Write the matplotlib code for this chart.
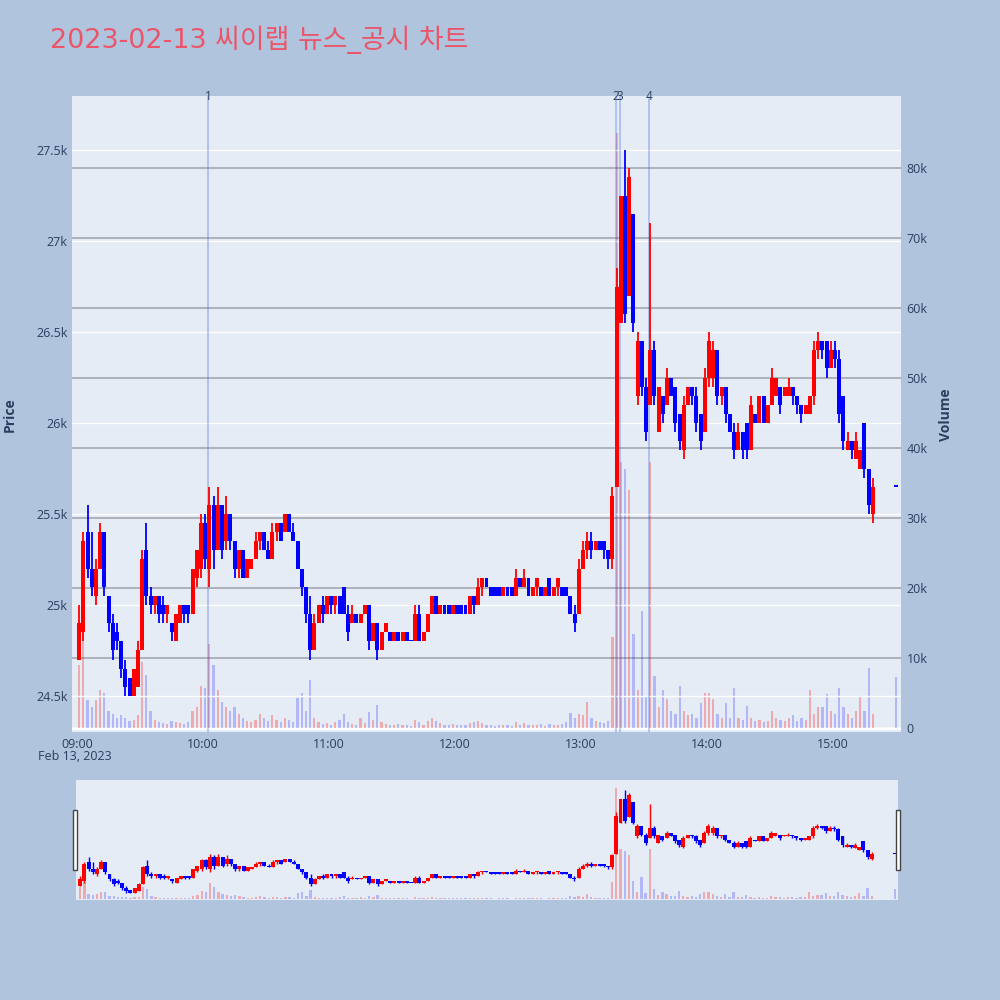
import numpy as np
import pandas as pd
import matplotlib
matplotlib.use('Agg')
import matplotlib.pyplot as plt
from matplotlib.patches import Rectangle
import matplotlib.transforms as mtransforms

plt.rcParams['font.family'] = ['Open Sans', 'Noto Sans CJK KR', 'DejaVu Sans']

title = '2023-02-13 씨이랩 뉴스_공시 차트'
session_start = '2023-02-13 09:00'

# 2-minute candles, 09:00 .. 15:20 (one row = 20 minutes)
opens = [
    24700, 24850, 25400, 25200, 25050, 25200, 25400, 25050, 24900, 24850,
    24800, 24650, 24600, 24500, 24550, 24750, 25300, 25050, 25000, 25050,
    25000, 24950, 24900, 24800, 24900, 25000, 25000, 24950, 25150, 25200,
    25450, 25200, 25550, 25300, 25550, 25350, 25500, 25350, 25200, 25300,
    25150, 25200, 25250, 25350, 25400, 25300, 25250, 25400, 25450, 25400,
    25500, 25400, 25350, 25200, 25100, 24950, 24750, 24900, 25000, 24950,
    25050, 25000, 25050, 25100, 24950, 24900, 24950, 24900, 24950, 25000,
    24800, 24900, 24750, 24850, 24850, 24800, 24850, 24800, 24850, 24800,
    24800, 24950, 24800, 24850, 24950, 25050, 24950, 25000, 25000, 24950,
    25000, 25000, 25000, 24950, 25050, 25000, 25100, 25150, 25100, 25100,
    25100, 25050, 25100, 25100, 25050, 25150, 25100, 25150, 25050, 25100,
    25100, 25050, 25150, 25050, 25100, 25100, 25100, 25050, 24950, 24950,
    25200, 25300, 25350, 25300, 25350, 25350, 25300, 25250, 25650, 26550,
    27250, 26700, 27150, 26150, 26450, 26200, 26100, 26400, 25950, 26150,
    26100, 26250, 26200, 26050, 25850, 26100, 26200, 26150, 26050, 25950,
    26250, 26250, 26400, 26150, 26200, 26050, 25950, 25850, 25950, 26000,
    25850, 26050, 26000, 26150, 26000, 26100, 26150, 26200, 26150, 26150,
    26200, 26150, 26100, 26050, 26050, 26150, 26400, 26450, 26450, 26300,
    26400, 26350, 26150, 25850, 25900, 25800, 25750, 26000, 25750, 25500,
]
highs = [
    25000, 25400, 25550, 25400, 25250, 25450, 25400, 25050, 24950, 24900,
    24800, 24700, 24600, 24650, 24800, 25300, 25450, 25100, 25050, 25050,
    25050, 25000, 24900, 24950, 25000, 25000, 25000, 25200, 25300, 25500,
    25500, 25650, 25600, 25650, 25550, 25600, 25500, 25350, 25300, 25300,
    25250, 25250, 25400, 25400, 25400, 25350, 25450, 25450, 25450, 25500,
    25500, 25450, 25350, 25200, 25100, 25050, 24950, 25000, 25050, 25050,
    25050, 25050, 25050, 25100, 25000, 25000, 24950, 24950, 25000, 25000,
    24900, 24900, 24850, 24900, 24850, 24850, 24850, 24850, 24850, 24800,
    25000, 25000, 24850, 24950, 25050, 25050, 25000, 25000, 25000, 25000,
    25000, 25000, 25000, 25050, 25050, 25150, 25150, 25150, 25100, 25100,
    25100, 25100, 25100, 25100, 25200, 25150, 25200, 25150, 25100, 25150,
    25100, 25100, 25150, 25100, 25150, 25100, 25100, 25050, 25000, 25250,
    25350, 25400, 25400, 25350, 25350, 25350, 25300, 25650, 26850, 27250,
    27500, 27400, 27150, 26500, 26450, 26250, 27100, 26450, 26200, 26150,
    26300, 26250, 26200, 26050, 26150, 26200, 26200, 26200, 26050, 26300,
    26500, 26450, 26400, 26200, 26200, 26050, 26000, 26000, 25950, 26000,
    26150, 26050, 26150, 26150, 26100, 26300, 26250, 26200, 26200, 26250,
    26200, 26150, 26100, 26100, 26150, 26450, 26500, 26450, 26450, 26450,
    26450, 26400, 26150, 25950, 25900, 25950, 25850, 26000, 25750, 25700,
]
lows = [
    24700, 24800, 25150, 25050, 25000, 25200, 25050, 24850, 24700, 24750,
    24600, 24500, 24500, 24500, 24550, 24750, 25000, 24950, 24950, 24900,
    24900, 24900, 24800, 24800, 24900, 24900, 24900, 24950, 25100, 25150,
    25200, 25100, 25200, 25300, 25250, 25300, 25300, 25150, 25150, 25150,
    25150, 25200, 25250, 25300, 25300, 25250, 25250, 25350, 25350, 25400,
    25400, 25350, 25200, 25050, 24900, 24700, 24750, 24900, 24900, 24950,
    24950, 24950, 24950, 24950, 24800, 24900, 24900, 24900, 24950, 24750,
    24800, 24700, 24750, 24850, 24800, 24800, 24800, 24800, 24800, 24800,
    24800, 24800, 24800, 24850, 24950, 24950, 24950, 24950, 24950, 24950,
    24950, 24950, 24950, 24950, 24950, 25000, 25050, 25100, 25050, 25050,
    25050, 25050, 25050, 25050, 25050, 25100, 25100, 25050, 25050, 25050,
    25050, 25050, 25050, 25050, 25050, 25050, 25050, 24950, 24850, 24950,
    25200, 25250, 25250, 25300, 25300, 25250, 25200, 25200, 25650, 26550,
    26550, 26700, 26500, 26100, 26150, 25900, 26100, 26100, 25950, 26000,
    26100, 26150, 25950, 25850, 25800, 26100, 26100, 25950, 25850, 25950,
    26200, 26200, 26100, 26100, 26000, 25950, 25800, 25850, 25800, 25800,
    25850, 26000, 26000, 26000, 26000, 26100, 26150, 26050, 26150, 26150,
    26100, 26050, 26000, 26050, 26050, 26100, 26350, 26350, 26250, 26300,
    26300, 26000, 25850, 25850, 25800, 25800, 25750, 25700, 25500, 25450,
]
closes = [
    24900, 25350, 25200, 25100, 25200, 25400, 25100, 24900, 24750, 24800,
    24650, 24550, 24500, 24650, 24750, 25250, 25050, 25000, 25050, 24950,
    24950, 25000, 24850, 24950, 25000, 24950, 24950, 25200, 25300, 25450,
    25250, 25550, 25300, 25550, 25300, 25500, 25350, 25200, 25300, 25150,
    25250, 25250, 25350, 25400, 25300, 25250, 25400, 25450, 25350, 25500,
    25400, 25350, 25200, 25100, 24950, 24750, 24900, 25000, 24950, 25050,
    25000, 25050, 24950, 24950, 24850, 24950, 24900, 24950, 25000, 24800,
    24900, 24750, 24850, 24900, 24800, 24850, 24800, 24850, 24800, 24800,
    24950, 24800, 24850, 24950, 25050, 24950, 25000, 24950, 24950, 25000,
    24950, 24950, 24950, 25050, 25000, 25100, 25150, 25100, 25050, 25050,
    25050, 25100, 25050, 25050, 25150, 25100, 25150, 25050, 25100, 25150,
    25050, 25100, 25050, 25100, 25150, 25050, 25050, 24950, 24900, 25200,
    25300, 25350, 25300, 25350, 25300, 25300, 25250, 25600, 26750, 27250,
    26600, 27350, 26550, 26450, 26200, 25950, 26400, 26150, 26200, 26050,
    26250, 26150, 26000, 25900, 26100, 26200, 26150, 26000, 25900, 26250,
    26450, 26400, 26150, 26200, 26050, 25950, 25850, 25950, 25850, 25850,
    26100, 26000, 26150, 26000, 26100, 26250, 26250, 26100, 26200, 26200,
    26150, 26100, 26050, 26100, 26150, 26400, 26450, 26400, 26300, 26400,
    26350, 26050, 25900, 25900, 25850, 25900, 25850, 25750, 25550, 25650,
]
volumes = [
    9000, 13000, 4000, 3000, 4000, 5400, 5000, 2500, 2000, 1500,
    1800, 1500, 1000, 1200, 1800, 9400, 7600, 2500, 1200, 800,
    700, 600, 1000, 900, 700, 600, 800, 2500, 3000, 6000,
    5700, 12000, 9000, 5500, 3700, 3000, 2500, 3000, 2000, 1500,
    1000, 800, 1200, 2000, 1500, 1000, 1800, 1200, 900, 1500,
    1200, 800, 4300, 5000, 2500, 6900, 1500, 800, 600, 700,
    500, 800, 1200, 2000, 800, 600, 500, 1400, 700, 2300,
    1200, 3300, 800, 600, 500, 400, 600, 500, 400, 300,
    1200, 800, 500, 1000, 1400, 1000, 700, 500, 400, 600,
    500, 500, 400, 700, 800, 1000, 700, 500, 400, 300,
    500, 400, 500, 300, 800, 500, 700, 400, 500, 400,
    600, 300, 600, 400, 500, 600, 800, 2200, 1500, 2000,
    1800, 3700, 1400, 1000, 800, 700, 1000, 13000, 85000, 38000,
    37000, 34000, 13400, 5500, 16700, 4400, 38000, 7400, 3000, 5500,
    4200, 2500, 2000, 6000, 2500, 1800, 2000, 1500, 3600, 5000,
    5000, 4200, 2000, 1500, 3600, 1500, 5700, 1500, 1200, 3200,
    1500, 1000, 1200, 800, 1000, 2400, 1500, 1200, 1000, 1500,
    1800, 1000, 1500, 1200, 5500, 2000, 3000, 3000, 4900, 2500,
    2000, 5700, 3000, 2000, 1500, 2500, 4600, 2500, 8600, 2000,
]

# closing auction print
auction_time = '2023-02-13 15:30'
auction_price = 25650
auction_volume = 7300

news_times = ['2023-02-13 10:02:24', '2023-02-13 13:16:42',
              '2023-02-13 13:18:36', '2023-02-13 13:32:24']
news_labels = ['1', '2', '3', '4']

price_ticks = [24500, 25000, 25500, 26000, 26500, 27000, 27500]
price_tick_labels = ['24.5k', '25k', '25.5k', '26k', '26.5k', '27k', '27.5k']
volume_ticks = [0, 10000, 20000, 30000, 40000, 50000, 60000, 70000, 80000]
volume_tick_labels = ['0', '10k', '20k', '30k', '40k', '50k', '60k', '70k', '80k']
hour_ticks = ['09:00', '10:00', '11:00', '12:00', '13:00', '14:00', '15:00']

assert len(opens) == len(highs) == len(lows) == len(closes) == len(volumes)

RED = '#FF0000'
BLUE = '#0000FF'
PLOT_BG = '#E5ECF6'
PAGE_BG = '#B0C4DE'
TXT = '#2a3f5f'

t0 = pd.Timestamp(session_start)
def to_min(ts):
    return (pd.to_datetime(ts) - t0) / pd.Timedelta(minutes=1)

bar_times = pd.date_range(t0, periods=len(closes), freq='2min')
x = np.asarray(to_min(bar_times)) + 1.0
o = np.array(opens, float)
h = np.array(highs, float)
l = np.array(lows, float)
c = np.array(closes, float)
v = np.array(volumes, float)

x_all = np.append(x, to_min(auction_time))
o_all = np.append(o, auction_price)
h_all = np.append(h, auction_price)
l_all = np.append(l, auction_price)
c_all = np.append(c, auction_price)
v_all = np.append(v, auction_volume)
up = c_all > o_all
cols = np.where(up, RED, BLUE)


def draw_candles(ax, body_w, wick_lw, min_h):
    bottom = np.minimum(o_all, c_all)
    height = np.maximum(np.abs(c_all - o_all), min_h)
    ax.vlines(x_all, l_all, h_all, colors=cols, lw=wick_lw, zorder=3)
    ax.bar(x_all, height, bottom=bottom, width=body_w, color=cols,
           linewidth=0, zorder=3)


def draw_volume(ax, w):
    vcols = [(1, 0, 0, 0.28) if u else (0, 0, 1, 0.22) for u in up]
    ax.bar(x_all, v_all, width=w, color=vcols, linewidth=0, zorder=1)


fig = plt.figure(figsize=(10, 10), dpi=100)
fig.patch.set_facecolor(PAGE_BG)

# main panel: volume axis underneath, price axis on top
ax = fig.add_axes([0.072, 0.268, 0.829, 0.636])
axv = ax.twinx()
ax.set_zorder(axv.get_zorder() + 1)
ax.patch.set_visible(False)
axv.patch.set_visible(True)
axv.set_facecolor(PLOT_BG)

ax.set_xlim(-2.4, 392.4)
ax.set_ylim(24302, 27797)
axv.set_ylim(-570, 90300)

axv.set_yticks(volume_ticks)
axv.set_yticklabels(volume_tick_labels)
axv.yaxis.grid(True, color='#A3A7AE', lw=1.2)
axv.set_axisbelow(True)
axv.axhline(0, color='white', lw=2, zorder=0.8)
draw_volume(axv, 1.1)

ax.set_yticks(price_ticks)
ax.set_yticklabels(price_tick_labels)
ax.yaxis.grid(True, color='white', lw=1.0)
ax.set_axisbelow(True)
draw_candles(ax, 1.9, 1.3, 9)

hx = [to_min(session_start[:11] + hh) for hh in hour_ticks]
ax.set_xticks(hx)
ax.set_xticklabels(hour_ticks)

for a in (ax, axv):
    for s in a.spines.values():
        s.set_visible(False)
    a.tick_params(length=0, labelsize=9, colors=TXT)
ax.tick_params(axis='y', pad=3)
axv.tick_params(axis='y', pad=4)
ax.tick_params(axis='x', pad=4)

trans = mtransforms.blended_transform_factory(ax.transData, ax.transAxes)
for nt, lab in zip(news_times, news_labels):
    nx = to_min(nt)
    ax.axvline(nx, color=(0.25, 0.41, 0.88, 0.35), lw=1.3, zorder=2)
    ax.text(nx, 1.0, lab, transform=trans, ha='center', va='center',
            fontsize=8.5, color=TXT)

fig.text(0.038, 1 - 0.757, 'Feb 13, 2023', ha='left', va='center',
         fontsize=9, color=TXT)
fig.text(0.010, 1 - 0.415, 'Price', rotation=90, ha='center', va='center',
         fontsize=10, fontweight='bold', color=TXT)
fig.text(0.946, 1 - 0.415, 'Volume', rotation=90, ha='center', va='center',
         fontsize=10, fontweight='bold', color=TXT)
fig.text(0.05, 1 - 0.040, title, ha='left', va='center', fontsize=19.4,
         color='#EB5569', family=['DejaVu Sans', 'Noto Sans CJK KR'])

# range slider
axs = fig.add_axes([0.076, 0.100, 0.822, 0.120])
axsv = axs.twinx()
axs.set_zorder(axsv.get_zorder() + 1)
axs.patch.set_visible(False)
axsv.patch.set_visible(True)
axsv.set_facecolor(PLOT_BG)
axs.set_xlim(-1, 391.5)
axs.set_ylim(24296, 27791)
axsv.set_ylim(-770, 91100)
draw_volume(axsv, 1.1)
draw_candles(axs, 1.9, 1.0, 20)
for a in (axs, axsv):
    a.set_xticks([])
    a.set_yticks([])
    for s in a.spines.values():
        s.set_visible(False)

for hx0 in (0.0725, 0.8955):
    fig.patches.append(Rectangle((hx0, 0.130), 0.004, 0.060,
                                 transform=fig.transFigure, facecolor='white',
                                 edgecolor='#444444', lw=1, zorder=10))

fig.savefig('out.png', dpi=100, facecolor=PAGE_BG)
